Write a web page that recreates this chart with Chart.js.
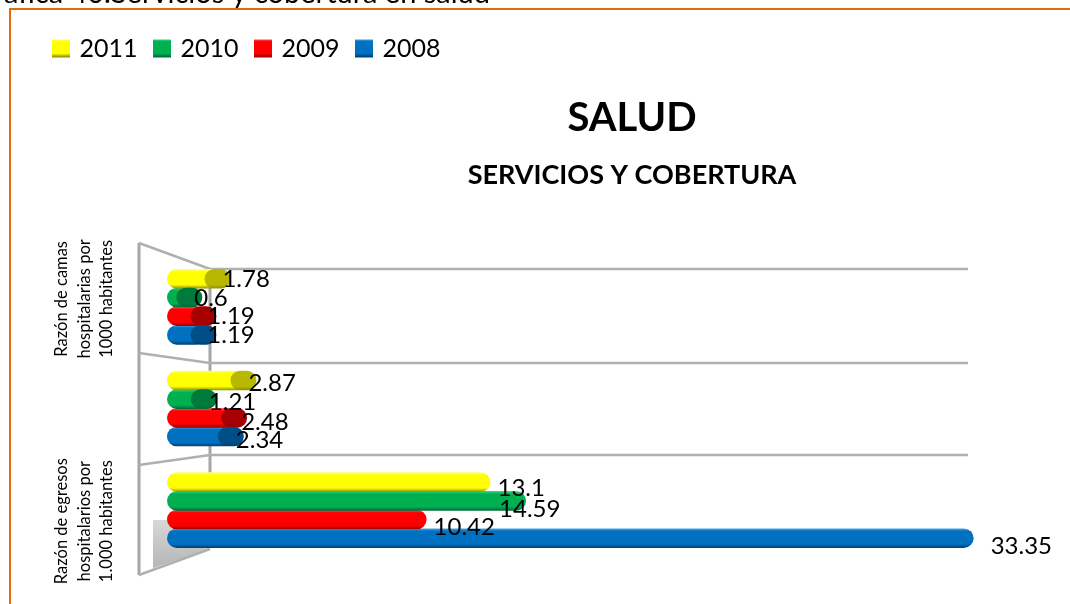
<!DOCTYPE html>
<html lang="es">
<head>
<meta charset="utf-8">
<title>Salud: servicios y cobertura</title>
<script src="https://cdn.jsdelivr.net/npm/chart.js@4"></script>
<style>html,body{margin:0;padding:0;background:#fff}canvas{display:block}</style>
</head>
<body>
<canvas id="c" width="1070" height="604"></canvas>
<script>
const categories = [
  ['Razón de camas', 'hospitalarias por', '1000 habitantes'],
  '',
  ['Razón de egresos', 'hospitalarios por', '1.000 habitantes']
];
const seriesNames = ['2011', '2010', '2009', '2008'];
const values2011 = [1.78, 2.87, 13.1];
const values2010 = [0.6, 1.21, 14.59];
const values2009 = [1.19, 2.48, 10.42];
const values2008 = [1.19, 2.34, 33.35];
const caption = 'Gráfica 40.Servicios y cobertura en salud';
const titleText = 'SALUD';
const subtitleText = 'SERVICIOS Y COBERTURA';

const FONT = 'Lato, Carlito, "Open Sans", sans-serif';
const palette = [
  {base:'#FFFF00', light:'#FFFF80', dark:'#8F8F00', cap:'#B8B800'},
  {base:'#00B050', light:'#40D88A', dark:'#00693A', cap:'#007A3A'},
  {base:'#FF0000', light:'#FF6060', dark:'#990000', cap:'#A80000'},
  {base:'#0070C0', light:'#4CA5E6', dark:'#003F70', cap:'#004E87'}
];
// label nudges (px) [series][category]
const labelDx = [[2,2,7],[2,2,-27],[1,4,7],[1,2,17]];
const labelDy = [[0,3,6],[1,3,8],[0,4,8],[0,4,8]];
const axisLabelNudge = [-8, 0, 11];
const BAR_FILL = 1.05;

const seriesValues = [values2011, values2010, values2009, values2008];
const canvas = document.getElementById('c');

function barGradient(ctx, top, h, p, forCap) {
  const g = ctx.createLinearGradient(0, top, 0, top + h);
  const mid = forCap ? p.cap : p.base;
  g.addColorStop(0, forCap ? p.cap : p.light);
  g.addColorStop(0.15, mid);
  g.addColorStop(0.8, mid);
  g.addColorStop(1, p.dark);
  return g;
}

const framePlugin = {
  id: 'frame',
  beforeLayout(chart) {
    const lg = chart.legend;
    if (lg && !lg._patched) {
      const fit = lg.fit;
      lg.fit = function () { fit.call(this); this.height = 256 - 17.5; };
      lg._patched = true;
    }
  },
  beforeDraw(chart) {
    const c = chart.ctx;
    c.save();
    c.fillStyle = '#fff';
    c.fillRect(0, 0, chart.width, chart.height);
    c.fillStyle = '#000';
    c.font = '29px ' + FONT;
    c.textAlign = 'right';
    c.textBaseline = 'alphabetic';
    c.fillText(caption, 490, 3);
    c.strokeStyle = '#E36C0A';
    c.lineWidth = 2;
    c.beginPath();
    c.moveTo(10, 604); c.lineTo(10, 9); c.lineTo(1070, 9);
    c.stroke();
    c.fillStyle = '#000';
    c.textAlign = 'center';
    c.textBaseline = 'middle';
    c.font = 'bold 40px ' + FONT;
    c.fillText(titleText, 632, 118);
    c.font = 'bold 27px ' + FONT;
    c.fillText(subtitleText, 632, 175);
    // rotated category labels, placed from the category scale
    const y = chart.scales.y;
    c.font = '16.5px ' + FONT;
    categories.forEach((lines, k) => {
      if (!Array.isArray(lines)) return;
      lines.forEach((line, n) => {
        c.save();
        c.translate(62 + n * 22.5, y.getPixelForValue(k) + axisLabelNudge[k]);
        c.rotate(-Math.PI / 2);
        c.fillText(line, 0, 0);
        c.restore();
      });
    });
    c.restore();
  },
  beforeDatasetsDraw(chart) {
    const c = chart.ctx;
    c.save();
    const floor = c.createLinearGradient(0, 520, 0, 570);
    floor.addColorStop(0, '#D8D8D8');
    floor.addColorStop(1, '#B4B4B4');
    c.fillStyle = floor;
    c.beginPath();
    c.moveTo(153, 520); c.lineTo(210, 520); c.lineTo(210, 549); c.lineTo(153, 568);
    c.closePath(); c.fill();
    c.strokeStyle = '#A6A6A6';
    c.lineWidth = 3;
    c.beginPath();
    c.moveTo(139, 243); c.lineTo(139, 575);
    c.moveTo(210, 269); c.lineTo(210, 480);
    c.stroke();
    c.lineWidth = 2.5;
    c.strokeStyle = '#B0B0B0';
    c.beginPath();
    [269, 363, 455].forEach(y => { c.moveTo(210, y); c.lineTo(968, y); });
    c.moveTo(139, 243); c.lineTo(210, 269);
    c.moveTo(139, 353); c.lineTo(210, 363);
    c.moveTo(139, 465); c.lineTo(210, 455);
    c.moveTo(139, 575); c.lineTo(210, 549);
    c.stroke();
    c.restore();
  },
  afterDatasetsDraw(chart) {
    const c = chart.ctx;
    c.save();
    chart.data.datasets.forEach((ds, i) => {
      const meta = chart.getDatasetMeta(i);
      meta.data.forEach((el, j) => {
        if (j < 2) {
          const h = el.height, top = el.y - h / 2, x0 = el.x - 16, x1 = el.x + 10;
          c.fillStyle = barGradient(c, top, h, palette[i], true);
          c.beginPath();
          c.roundRect(x0, top, x1 - x0, h, h / 2);
          c.fill();
        }
      });
    });
    c.fillStyle = '#000';
    c.font = '24px ' + FONT;
    c.textAlign = 'left';
    c.textBaseline = 'middle';
    chart.data.datasets.forEach((ds, i) => {
      const meta = chart.getDatasetMeta(i);
      meta.data.forEach((el, j) => {
        c.fillText(String(ds.data[j]), el.x + labelDx[i][j], el.y + labelDy[i][j]);
      });
    });
    c.restore();
  }
};

new Chart(canvas, {
  type: 'bar',
  data: {
    labels: categories,
    datasets: seriesNames.map((name, i) => ({
      label: name,
      data: seriesValues[i],
      base: -0.46,
      categoryPercentage: 0.735,
      barPercentage: BAR_FILL,
      borderRadius: 10,
      borderSkipped: false,
      borderWidth: 0,
      backgroundColor(ctx) {
        const chart = ctx.chart, y = chart.scales.y;
        if (!y || ctx.dataIndex === undefined) return palette[i].base;
        const step = (y.bottom - y.top) / categories.length;
        const w = step * 0.735 / seriesNames.length;
        const center = y.getPixelForValue(ctx.dataIndex) + (i - 1.5) * w;
        const h = w * BAR_FILL;
        return barGradient(chart.ctx, center - h / 2, h, palette[i], false);
      }
    }))
  },
  plugins: [framePlugin],
  options: {
    responsive: false,
    animation: false,
    indexAxis: 'y',
    layout: {autoPadding: false, padding: {left: 36.5, top: 17.5, right: 57, bottom: 43}},
    scales: {
      x: {display: false, min: -0.46, max: 35},
      y: {
        type: 'category', position: 'left',
        grid: {display: false, drawTicks: false},
        border: {display: false},
        ticks: {display: false},
        afterFit(axis) { axis.width = 130.5; }
      }
    },
    plugins: {
      tooltip: {enabled: false},
      title: {display: false},
      legend: {
        display: true, position: 'top', align: 'start', reverse: false,
        labels: {
          boxWidth: 12, boxHeight: 12, padding: 18.5, color: '#000',
          font: {family: FONT, size: 25},
          generateLabels: chart => chart.data.datasets.map((d, i) => {
            const g = barGradient(chart.ctx, 39, 18, palette[i], false);
            return {text: d.label, fillStyle: g, strokeStyle: g, lineWidth: 6, datasetIndex: i, fontColor: '#000'};
          })
        }
      }
    }
  }
});
</script>
</body>
</html>
